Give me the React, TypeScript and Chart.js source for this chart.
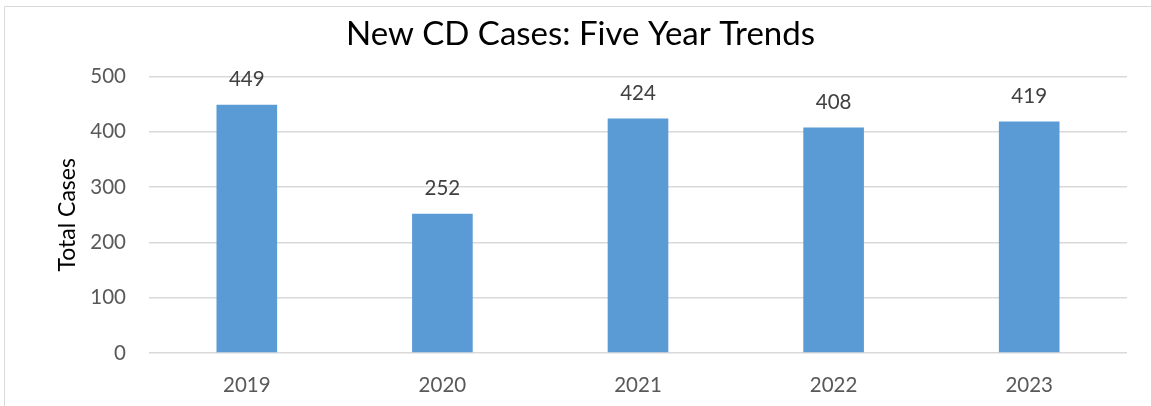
import React, { useEffect, useRef } from "react";
import { Chart, registerables } from "chart.js";

Chart.register(...registerables);

const categories: string[] = ["2019", "2020", "2021", "2022", "2023"];
const totalCases: number[] = [449, 252, 424, 408, 419];
const chartTitle = "New CD Cases: Five Year Trends";
const yAxisTitle = "Total Cases";
const yMin = 0;
const yMax = 500;
const yStep = 100;

const FONT = "Lato, 'Open Sans', sans-serif";

const frameBorder = {
  id: "frameBorder",
  beforeDraw(chart: any) {
    const ctx = chart.ctx;
    ctx.save();
    ctx.strokeStyle = "#d9d9d9";
    ctx.lineWidth = 1;
    ctx.beginPath();
    ctx.moveTo(4.5, chart.height);
    ctx.lineTo(4.5, 6.5);
    ctx.lineTo(chart.width, 6.5);
    ctx.stroke();
    ctx.restore();
  },
};

const barLabels = {
  id: "barLabels",
  afterDatasetsDraw(chart: any) {
    const ctx = chart.ctx;
    const meta = chart.getDatasetMeta(0);
    const data = chart.data.datasets[0].data as number[];
    ctx.save();
    ctx.font = `20.5px ${FONT}`;
    ctx.fillStyle = "#404040";
    ctx.textAlign = "center";
    ctx.textBaseline = "middle";
    meta.data.forEach((el: any, i: number) => {
      ctx.fillText(String(data[i]), el.x, el.y - 25);
    });
    ctx.restore();
  },
};

export default function App() {
  const canvasRef = useRef<HTMLCanvasElement | null>(null);

  useEffect(() => {
    if (!canvasRef.current) return;
    const chart = new Chart(canvasRef.current, {
      type: "bar",
      data: {
        labels: categories,
        datasets: [
          {
            label: yAxisTitle,
            data: totalCases,
            backgroundColor: "#5b9bd5",
            borderWidth: 0,
            barPercentage: 0.31,
            categoryPercentage: 1,
          },
        ],
      },
      options: {
        animation: false,
        responsive: false,
        maintainAspectRatio: false,
        layout: { padding: { top: 0, right: 24, bottom: 0, left: 34 } },
        plugins: {
          legend: { display: false },
          tooltip: { enabled: false },
          title: {
            display: true,
            text: chartTitle,
            color: "#000000",
            font: { family: FONT, size: 33, weight: "normal" },
            padding: { top: 15, bottom: 22 },
          },
        },
        scales: {
          x: {
            grid: { display: false, drawTicks: false },
            border: { display: false },
            ticks: {
              color: "#595959",
              font: { family: FONT, size: 20.5 },
              padding: 20,
            },
            afterFit(scale: any) {
              scale.height = 53;
            },
          },
          y: {
            min: yMin,
            max: yMax,
            grid: { color: "#d9d9d9", lineWidth: 1.5, drawTicks: false },
            border: { display: false },
            ticks: {
              stepSize: yStep,
              color: "#595959",
              font: { family: FONT, size: 20.5 },
              padding: 23,
            },
            title: {
              display: true,
              text: yAxisTitle,
              color: "#000000",
              font: { family: FONT, size: 23 },
              padding: { top: 20, bottom: 0 },
            },
            afterFit(scale: any) {
              scale.width = 115;
            },
          },
        },
      },
      plugins: [frameBorder, barLabels],
    });
    return () => chart.destroy();
  }, []);

  return (
    <div style={{ position: "absolute", left: 0, top: 0, width: 1151, height: 406, background: "#fff" }}>
      <canvas ref={canvasRef} width={1151} height={406} style={{ width: 1151, height: 406, display: "block" }} />
    </div>
  );
}
